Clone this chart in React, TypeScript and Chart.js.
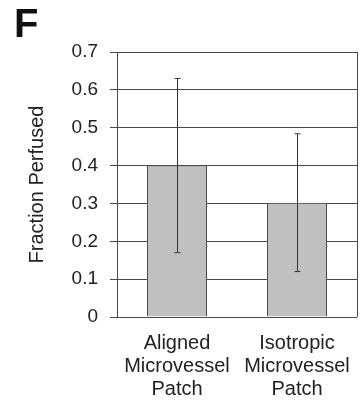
import React, { useEffect, useRef } from "react";
import { Chart, registerables } from "chart.js";

Chart.register(...registerables);

const categories: string[][] = [
  ["Aligned", "Microvessel", "Patch"],
  ["Isotropic", "Microvessel", "Patch"],
];
const fractionPerfused: number[] = [0.4, 0.302];
const errorAmount: number[] = [0.23, 0.182];
const yTicks: number[] = [0, 0.1, 0.2, 0.3, 0.4, 0.5, 0.6, 0.7];

const FONT = "'Liberation Sans', Arial, sans-serif";
const LINE = "#4a4a4a";

const errorBarPlugin = {
  id: "errorBars",
  afterDatasetsDraw(chart: any) {
    const { ctx, scales } = chart;
    const meta = chart.getDatasetMeta(0);
    ctx.save();
    ctx.strokeStyle = "#333333";
    ctx.lineWidth = 1;
    meta.data.forEach((bar: any, i: number) => {
      const x = Math.round(bar.x) + 0.5;
      const top = scales.y.getPixelForValue(fractionPerfused[i] + errorAmount[i]);
      const bot = scales.y.getPixelForValue(fractionPerfused[i] - errorAmount[i]);
      ctx.beginPath();
      ctx.moveTo(x, top);
      ctx.lineTo(x, bot);
      ctx.moveTo(x - 3, top);
      ctx.lineTo(x + 3, top);
      ctx.moveTo(x - 3, bot);
      ctx.lineTo(x + 3, bot);
      ctx.stroke();
    });
    ctx.restore();
  },
};

const frameRightPlugin = {
  id: "frameRight",
  beforeDatasetsDraw(chart: any) {
    const { ctx, chartArea } = chart;
    ctx.save();
    ctx.strokeStyle = LINE;
    ctx.lineWidth = 1;
    const x = Math.round(chartArea.right) + 0.5;
    ctx.beginPath();
    ctx.moveTo(x, chartArea.top);
    ctx.lineTo(x, chartArea.bottom);
    ctx.stroke();
    ctx.restore();
  },
};

export default function App() {
  const ref = useRef<HTMLCanvasElement | null>(null);

  useEffect(() => {
    if (!ref.current) return;
    const chart = new Chart(ref.current, {
      type: "bar",
      data: {
        labels: categories,
        datasets: [
          {
            data: fractionPerfused,
            backgroundColor: "#c0c0c0",
            borderColor: LINE,
            borderWidth: 1,
            barPercentage: 0.5,
            categoryPercentage: 1,
          },
        ],
      },
      options: {
        animation: false,
        responsive: false,
        maintainAspectRatio: false,
        layout: { padding: { top: 52, right: 4, left: 0, bottom: 0 } },
        plugins: {
          legend: { display: false },
          tooltip: { enabled: false },
        },
        scales: {
          x: {
            grid: { display: false },
            border: { display: false },
            ticks: {
              color: "#222222",
              padding: 7,
              maxRotation: 0,
              autoSkip: false,
              font: { family: FONT, size: 20, lineHeight: 1.15 },
            },
            afterFit(scale: any) {
              scale.height = 85;
            },
          },
          y: {
            min: 0,
            max: 0.7,
            afterBuildTicks(scale: any) {
              scale.ticks = yTicks.map((v) => ({ value: v }));
            },
            grid: {
              color: LINE,
              lineWidth: 1,
              tickLength: 7,
            },
            border: { display: true, color: LINE },
            ticks: {
              color: "#222222",
              padding: 12,
              font: { family: FONT, size: 19 },
              callback: (v: any) => String(Math.round(Number(v) * 10) / 10),
            },
            title: {
              display: true,
              text: "Fraction Perfused",
              color: "#222222",
              font: { family: FONT, size: 20 },
              padding: { top: 25, bottom: 0 },
            },
            afterFit(scale: any) {
              scale.width = 117;
            },
          },
        },
      },
      plugins: [frameRightPlugin, errorBarPlugin],
    });
    return () => chart.destroy();
  }, []);

  return (
    <div style={{ position: "fixed", left: 0, top: 0, width: 361, height: 402, background: "#fff" }}>
      <div
        style={{
          position: "absolute",
          left: 14,
          top: 3,
          fontFamily: FONT,
          fontSize: 40,
          fontWeight: "bold",
          lineHeight: "40px",
          color: "#111",
        }}
      >
        F
      </div>
      <canvas ref={ref} width={361} height={402} style={{ display: "block" }} />
    </div>
  );
}
